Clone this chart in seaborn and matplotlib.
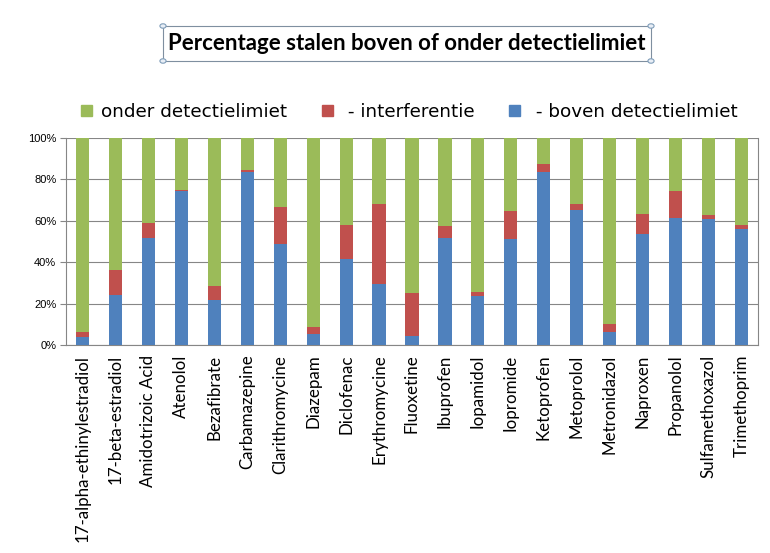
import matplotlib
matplotlib.use("Agg")
import matplotlib.pyplot as plt
import seaborn as sns
import pandas as pd
import numpy as np
from matplotlib.patches import Patch

categories = ["17-alpha-ethinylestradiol", "17-beta-estradiol", "Amidotrizoic Acid", "Atenolol",
              "Bezafibrate", "Carbamazepine", "Clarithromycine", "Diazepam", "Diclofenac",
              "Erythromycine", "Fluoxetine", "Ibuprofen", "Iopamidol", "Iopromide", "Ketoprofen",
              "Metoprolol", "Metronidazol", "Naproxen", "Propanolol", "Sulfamethoxazol", "Trimethoprim"]
boven = [3.7, 24.1, 51.8, 74.6, 21.7, 83.8, 48.7, 5.2, 41.6, 29.4, 4.2,
         51.8, 23.6, 51.1, 83.5, 65.2, 6.5, 53.7, 61.2, 61.0, 56.1]
interferentie = [2.8, 12.0, 7.1, 0.5, 6.8, 0.5, 18.0, 3.7, 16.3, 38.9, 20.7,
                 5.6, 1.8, 13.8, 3.7, 2.9, 3.5, 9.7, 13.2, 1.9, 2.0]
onder = [93.5, 63.9, 41.1, 24.9, 71.5, 15.7, 33.3, 91.1, 42.1, 31.7, 75.1,
         42.6, 74.6, 35.1, 12.8, 31.9, 90.0, 36.6, 25.6, 37.1, 41.9]
yticks = [0, 20, 40, 60, 80, 100]
ytick_labels = ["0%", "20%", "40%", "60%", "80%", "100%"]

c_green = "#9BBB59"
c_red = "#C0504D"
c_blue = "#4F81BD"

df = pd.DataFrame({"cat": categories, "boven": boven, "interf": interferentie, "onder": onder})
df["top_red"] = df["boven"] + df["interf"]
df["top_green"] = df["top_red"] + df["onder"]

sns.set_style("white")
plt.rcParams["font.family"] = ["Lato", "DejaVu Sans"]
plt.rcParams["text.color"] = "black"
plt.rcParams["xtick.labelcolor"] = "black"
plt.rcParams["ytick.labelcolor"] = "black"

fig = plt.figure(figsize=(7.7, 5.53), dpi=100)
ax = fig.add_axes([66 / 770, 1 - 345 / 553, (758 - 66) / 770, (345 - 138) / 553])

w = 0.4
for col, c in [("top_green", c_green), ("top_red", c_red), ("boven", c_blue)]:
    sns.barplot(data=df, x="cat", y=col, color=c, width=w, ax=ax, saturation=1,
                linewidth=0, edgecolor="none", zorder=3)

ax.set_ylim(0, 100)
ax.set_xlim(-0.5, len(categories) - 0.5)
ax.set_yticks(yticks)
ax.set_yticklabels(ytick_labels, fontsize=8, family=["Liberation Sans"], color="black")
ax.set_xlabel("")
ax.set_ylabel("")
ax.set_xticks(range(len(categories)))
ax.set_xticklabels(categories, rotation=90, fontsize=12.2, color="black")
ax.tick_params(axis="x", length=0, pad=7)
ax.set_xticks(np.arange(-0.5, len(categories), 1), minor=True)
ax.tick_params(axis="x", which="minor", length=5, color="#868686", width=0.8)
ax.tick_params(axis="y", length=4, color="#868686", width=0.8, pad=3, left=True)
ax.yaxis.grid(True, color="#868686", linewidth=0.8, zorder=0)
ax.set_axisbelow(True)
for s in ax.spines.values():
    s.set_color("#868686")
    s.set_linewidth(0.8)
ax.spines["top"].set_visible(False)

handles = [Patch(color=c_green, label="onder detectielimiet"),
           Patch(color=c_red, label=" - interferentie"),
           Patch(color=c_blue, label=" - boven detectielimiet")]
leg = fig.legend(handles=handles, loc="center", bbox_to_anchor=(409 / 770, 1 - 112 / 553), ncol=3,
                 frameon=False, handlelength=0.6, handleheight=0.6,
                 handletextpad=0.5, columnspacing=1.9, prop={"family": "DejaVu Sans", "size": 13.2})
for t in leg.get_texts():
    t.set_color("black")

fig.text(407 / 770, 1 - 44 / 553, "Percentage stalen boven of onder detectielimiet",
         ha="center", va="center", fontsize=16, fontweight="bold", color="black")
box = plt.Rectangle((163 / 770, 1 - 61 / 553), (651 - 163) / 770, (61 - 26) / 553,
                    transform=fig.transFigure, fill=False, edgecolor="#7F8FA0", linewidth=0.8)
fig.add_artist(box)
for (px, py) in [(163, 26), (651, 26), (163, 61), (651, 61)]:
    fig.add_artist(plt.Circle((px / 770, 1 - py / 553), 0.004, transform=fig.transFigure,
                              facecolor="#E8EEF6", edgecolor="#7F9DB9", linewidth=0.8))

fig.savefig("out.png", dpi=100, facecolor="white")
